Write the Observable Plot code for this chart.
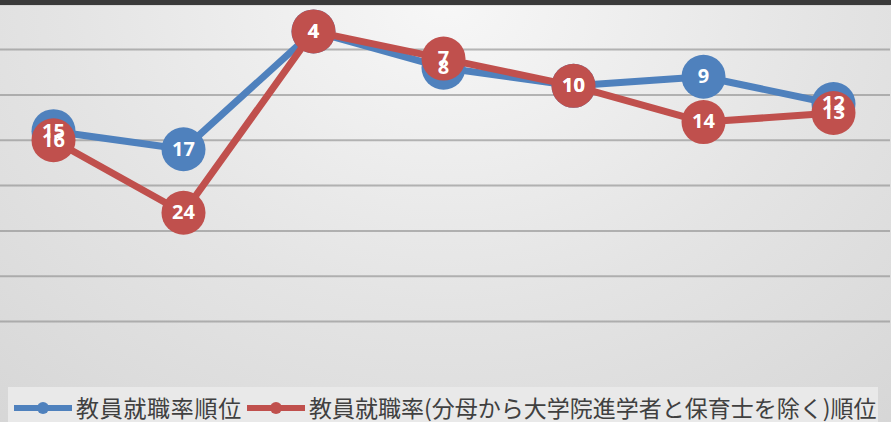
<!DOCTYPE html>
<html>
<head>
<meta charset="utf-8">
<script src="https://cdn.jsdelivr.net/npm/d3@7"></script>
<script src="https://cdn.jsdelivr.net/npm/@observablehq/plot@0.6"></script>
<style>
  html, body { margin: 0; padding: 0; }
  #wrap {
    position: relative; width: 891px; height: 422px; overflow: hidden;
    background: radial-gradient(ellipse 95% 160% at 50% 0%, #f7f7f7 0%, #e4e4e4 45%, #d0d0d0 100%);
  }
  #topbar { position: absolute; left: 0; top: 0; width: 891px; height: 5px; background: #3a3a3a; z-index: 2; }
  #chart { position: absolute; left: 0; top: 0; }
  #legend {
    position: absolute; left: 8px; top: 387px; width: 870px; height: 35px;
    background: #e9e9e9;
    font-family: "Noto Sans CJK JP", sans-serif; font-size: 23px; color: #404040;
  }
  #legend .item { position: absolute; top: 0; height: 35px; display: flex; align-items: center; white-space: nowrap; }
  #legend .item span { line-height: 1; position: relative; top: 3px; }
  #legend svg { display: block; margin-right: 4px; position: relative; top: 3px; }
</style>
</head>
<body>
<div id="wrap">
  <div id="chart"></div>
  <div id="topbar"></div>
  <div id="legend"></div>
</div>
<script>
// Data
const categories = [1, 2, 3, 4, 5, 6, 7];
const seriesNames = ["教員就職率順位", "教員就職率(分母から大学院進学者と保育士を除く)順位"];
const rankAll = [15, 17, 4, 8, 10, 9, 12];
const rankAdjusted = [16, 24, 4, 7, 10, 14, 13];
const yTicks = [1, 6, 11, 16, 21, 26, 31, 36];
const colors = ["#4F81BD", "#C0504D"];

const blue = categories.map((c, i) => ({x: c, y: rankAll[i], s: seriesNames[0]}));
const red = categories.map((c, i) => ({x: c, y: rankAdjusted[i], s: seriesNames[1]}));

const plot = Plot.plot({
  width: 891,
  height: 387,
  style: {background: "transparent", overflow: "visible"},
  x: {type: "linear", domain: [1, 7], range: [53, 833], axis: null},
  y: {domain: [1, 36], range: [3.7, 321.1], axis: null},
  marks: [
    Plot.ruleY(yTicks, {stroke: "#8a8a8a", strokeOpacity: 0.6, strokeWidth: 2}),
    Plot.line(blue, {x: "x", y: "y", stroke: colors[0], strokeWidth: 7, strokeLinejoin: "round"}),
    Plot.dot(blue, {x: "x", y: "y", r: 22, fill: colors[0], stroke: "none"}),
    Plot.line(red, {x: "x", y: "y", stroke: colors[1], strokeWidth: 7, strokeLinejoin: "round"}),
    Plot.dot(red, {x: "x", y: "y", r: 22, fill: colors[1], stroke: "none"}),
    Plot.text(blue, {x: "x", y: "y", text: d => String(d.y), fill: "white", fontSize: 20, fontWeight: "bold", fontFamily: "Open Sans, sans-serif"}),
    Plot.text(red, {x: "x", y: "y", text: d => String(d.y), fill: "white", fontSize: 20, fontWeight: "bold", fontFamily: "Open Sans, sans-serif"})
  ]
});
document.getElementById("chart").appendChild(plot);

// Legend
const legend = document.getElementById("legend");
const lefts = [6, 239];
const spacing = ["0.7px", "0px"];
seriesNames.forEach((name, i) => {
  const item = document.createElement("div");
  item.className = "item";
  item.style.left = lefts[i] + "px";
  item.innerHTML = `<svg width="58" height="14" viewBox="0 0 58 14">
      <line x1="1" y1="7" x2="57" y2="7" stroke="${colors[i]}" stroke-width="6" stroke-linecap="round"/>
      <circle cx="29" cy="7" r="6" fill="${colors[i]}"/></svg><span style="letter-spacing:${spacing[i]}">${name}</span>`;
  legend.appendChild(item);
});
</script>
</body>
</html>
